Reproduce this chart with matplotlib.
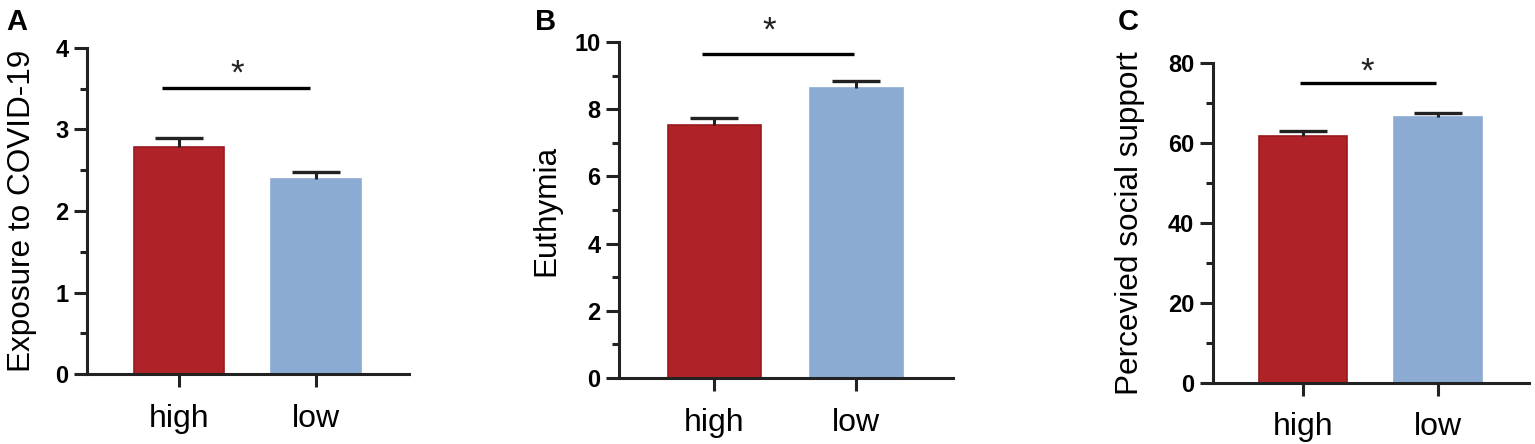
import numpy as np
import matplotlib.pyplot as plt
from matplotlib.ticker import MultipleLocator

plt.rcParams['font.family'] = ['Liberation Sans', 'DejaVu Sans']

groups = ['high', 'low']

# panel data: means and upper error (SEM)
exposure_mean = [2.79, 2.39]
exposure_err = [0.11, 0.09]
euthymia_mean = [7.53, 8.65]
euthymia_err = [0.22, 0.19]
support_mean = [61.8, 66.5]
support_err = [1.2, 1.1]

labels = ['Exposure to COVID-19', 'Euthymia', 'Percevied social support']
letters = ['A', 'B', 'C']
ymax = [4, 10, 80]
major_step = [1, 2, 20]
minor_step = [0.5, 1, 10]

# significance bars: y level, x start, x end; star position (baseline)
sig_y = [3.51, 9.64, 75.1]
sig_x0 = [-0.12, -0.085, -0.02]
sig_x1 = [0.96, 0.98, 0.99]
star_x = [0.424, 0.39, 0.48]
star_y = [3.56, 10.04, 75.3]

means = [exposure_mean, euthymia_mean, support_mean]
errs = [exposure_err, euthymia_err, support_err]

W, H = 1535, 444
fig = plt.figure(figsize=(W / 100, H / 100), dpi=100)

# axes boxes in pixels: left, right, y of zero, y of top
boxes = [(87, 409, 374, 48), (619, 953, 377.7, 42.3), (1213, 1529, 382.5, 63.3)]
letter_pos = [(6, 8), (535, 8), (1118, 8)]
label_x = [22, 546, 1130]

red = '#AF2328'
blue = '#8BABD3'
ink = '#222222'

for i in range(3):
    l, r, b, t = boxes[i]
    ax = fig.add_axes([l / W, (H - b) / H, (r - l) / W, (b - t) / H])
    x = np.arange(len(groups))
    ax.bar(x, means[i], width=0.655, color=[red, blue],
           edgecolor=['#9A1A1F', blue], linewidth=1.2, zorder=2)
    eb = ax.errorbar(x, means[i], yerr=[[0, 0], errs[i]], fmt='none',
                     ecolor=ink, elinewidth=2.2, capsize=17, capthick=2.4,
                     zorder=3)
    eb[1][0].set_visible(False)  # only the upper cap
    ax.plot([sig_x0[i], sig_x1[i]], [sig_y[i], sig_y[i]], color='black',
            lw=2.4, solid_capstyle='butt', clip_on=False)
    ax.text(star_x[i], star_y[i], '*', ha='center', va='baseline',
            fontsize=25, color=ink, clip_on=False)

    ax.set_xlim(-0.67, 1.68)
    ax.set_ylim(0, ymax[i])
    ax.yaxis.set_major_locator(MultipleLocator(major_step[i]))
    ax.yaxis.set_minor_locator(MultipleLocator(minor_step[i]))
    ax.set_xticks(x)
    ax.set_xticklabels(groups, fontsize=23)
    for tl in ax.get_yticklabels():
        tl.set_fontweight('bold')
        tl.set_fontsize(17)

    for s in ['top', 'right']:
        ax.spines[s].set_visible(False)
    for s in ['left', 'bottom']:
        ax.spines[s].set_linewidth(2.2)
        ax.spines[s].set_color(ink)
    ax.tick_params(axis='both', which='major', length=9.5, width=2.2,
                   color=ink, labelcolor='black')
    ax.tick_params(axis='y', which='minor', length=5, width=2.2, color=ink)
    ax.tick_params(axis='y', which='major', pad=4)
    ax.tick_params(axis='x', which='major', pad=12)

    ax.set_ylabel(labels[i], fontsize=22.7, va='center')
    ax.yaxis.set_label_coords((label_x[i] - l) / (r - l), 0.5)

    fig.text(letter_pos[i][0] / W, 1 - letter_pos[i][1] / H, letters[i],
             fontsize=21, fontweight='bold', ha='left', va='top')

fig.savefig('out.png', dpi=100)
